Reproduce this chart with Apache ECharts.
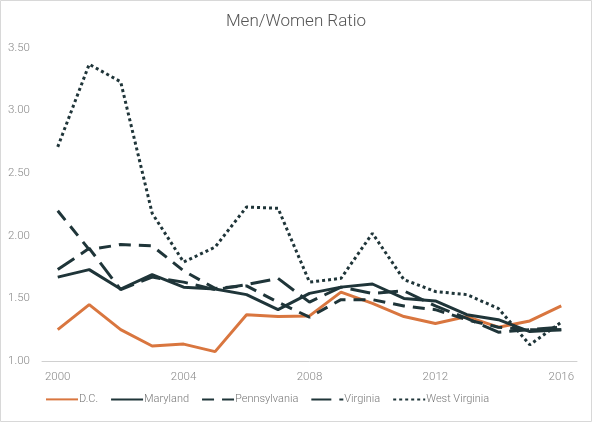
<!DOCTYPE html>
<html>
<head>
<meta charset="utf-8">
<script src="https://cdn.jsdelivr.net/npm/echarts@6/dist/echarts.min.js"></script>
<style>
html,body{margin:0;padding:0;background:#fff;}
#chart{width:592px;height:422px;}
</style>
</head>
<body>
<div id="chart"></div>
<script>
const years = ['2000','2001','2002','2003','2004','2005','2006','2007','2008','2009','2010','2011','2012','2013','2014','2015','2016'];
const dc = [1.25, 1.45, 1.25, 1.12, 1.135, 1.075, 1.37, 1.355, 1.36, 1.55, 1.46, 1.355, 1.30, 1.355, 1.27, 1.32, 1.44];
const maryland = [1.67, 1.73, 1.575, 1.69, 1.59, 1.575, 1.53, 1.41, 1.54, 1.59, 1.615, 1.50, 1.48, 1.37, 1.33, 1.235, 1.25];
const pennsylvania = [2.20, 1.89, 1.93, 1.92, 1.72, 1.58, 1.60, 1.47, 1.35, 1.49, 1.49, 1.44, 1.41, 1.33, 1.27, 1.25, 1.25];
const virginia = [1.73, 1.90, 1.57, 1.67, 1.63, 1.57, 1.61, 1.66, 1.47, 1.59, 1.54, 1.56, 1.44, 1.34, 1.23, 1.25, 1.27];
const westVirginia = [2.71, 3.37, 3.23, 2.18, 1.79, 1.91, 2.23, 2.22, 1.63, 1.66, 2.02, 1.65, 1.555, 1.53, 1.42, 1.13, 1.31];

const orange = '#D9763F';
const dark = '#1F3539';

function mk(name, data, color, type) {
  return {
    name: name, type: 'line', data: data, showSymbol: false, symbol: 'none',
    lineStyle: { color: color, width: 3, type: type, cap: 'butt' },
    itemStyle: { color: color },
    emphasis: { disabled: true }
  };
}

const chart = echarts.init(document.getElementById('chart'), null, { renderer: 'canvas' });
chart.setOption({
  animation: false,
  backgroundColor: '#fff',
  title: {
    text: 'Men/Women Ratio', left: 'center', top: 8,
    textStyle: { fontFamily: 'Roboto', fontWeight: 300, fontSize: 17, color: '#555' }
  },
  graphic: [{
    type: 'rect', shape: { x: 0.5, y: 0.5, width: 591, height: 421 },
    style: { fill: 'none', stroke: '#d8d8d8', lineWidth: 1 }, silent: true
  }],
  legend: {
    bottom: 12, left: 40, itemWidth: 32, itemHeight: 14, itemGap: 12,
    itemStyle: { opacity: 0 },
    textStyle: { fontFamily: 'Roboto', fontWeight: 300, fontSize: 11, color: '#777', padding: [0, 0, 0, -4] },
    data: ['D.C.', 'Maryland', 'Pennsylvania', 'Virginia', 'West Virginia']
  },
  grid: { left: 42, right: 15, top: 48, bottom: 61, containLabel: false },
  xAxis: {
    type: 'category', data: years, boundaryGap: true,
    axisLine: { lineStyle: { color: '#d0d0d0', width: 1 } },
    axisTick: { show: false },
    axisLabel: { interval: 3, color: '#888', fontFamily: 'Roboto', fontWeight: 300, fontSize: 11.5, margin: 10 }
  },
  yAxis: {
    type: 'value', min: 1, max: 3.5, interval: 0.5,
    axisLine: { show: false }, axisTick: { show: false },
    splitLine: { show: false },
    axisLabel: {
      color: '#888', fontFamily: 'Roboto', fontWeight: 300, fontSize: 11.5,
      align: 'left', margin: 34, formatter: v => v.toFixed(2)
    }
  },
  series: [
    mk('D.C.', dc, orange, 'solid'),
    mk('Maryland', maryland, dark, 'solid'),
    mk('Pennsylvania', pennsylvania, dark, [12, 8]),
    mk('Virginia', virginia, dark, [20, 8]),
    mk('West Virginia', westVirginia, dark, [3, 3])
  ]
});
</script>
</body>
</html>
